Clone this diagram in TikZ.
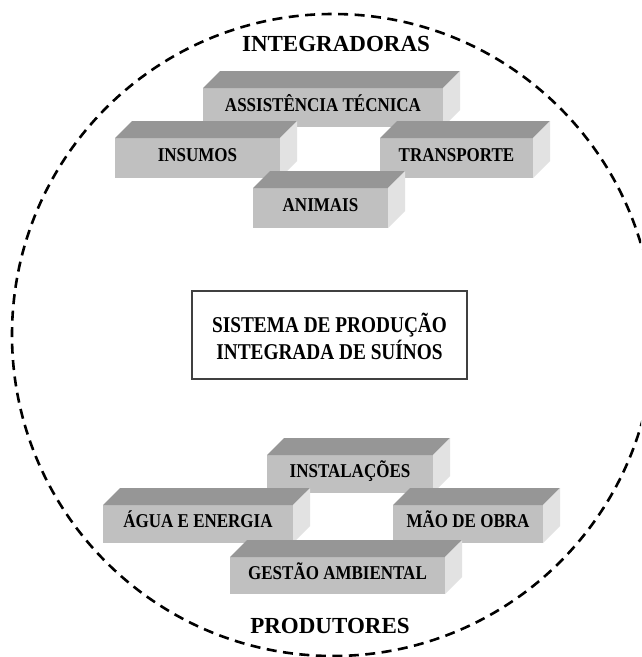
\documentclass[tikz,border=0pt]{standalone}
\usepackage{fontspec}
\setmainfont{Liberation Serif}
\usetikzlibrary{calc}
\definecolor{frontc}{HTML}{C0C0C0}
\definecolor{topc}{HTML}{969696}
\definecolor{sidec}{HTML}{E2E2E2}
\newcommand\dd{17}
\newcommand\tallbox[1]{\raisebox{-3.5pt}[0pt][0pt]{\scalebox{1}[1.15]{#1}}}
\newcommand\cubebox[6]{%
  \node[face, minimum width={#4-#2}, minimum height={#5-#3}] (#1) at ({(#2+#4)/2},{(#3+#5)/2}) {\tallbox{#6}};
  \fill[topc] (#1.north west) -- ([shift={(\dd,-\dd)}]#1.north west) -- ([shift={(\dd,-\dd)}]#1.north east) -- (#1.north east) -- cycle;
  \fill[sidec] (#1.north east) -- ([shift={(\dd,-\dd)}]#1.north east) -- ([shift={(\dd,-\dd)}]#1.south east) -- (#1.south east) -- cycle;
}
\tikzset{
  face/.style={fill=frontc, draw=none, inner sep=0pt, outer sep=0pt,
    font=\fontsize{17}{20}\selectfont\bfseries},
  title/.style={inner sep=0pt, font=\fontsize{23}{26}\selectfont\bfseries},
  centerbox/.style={draw=black!75, line width=1.3pt, fill=white, inner sep=0pt,
    minimum width=275, minimum height=88,
    font=\fontsize{19.3}{22.5}\selectfont\bfseries},
  ring/.style={line width=2.6pt, dash pattern=on 10pt off 6.5pt}
}
\begin{document}
\begin{tikzpicture}[x=1pt,y=-1pt]
\useasboundingbox (0,0) rectangle (641,657);
\clip (0,0) rectangle (641,657);
\fill[white] (0,0) rectangle (641,657);
\draw[ring] (333,335) circle[radius=321];
\node[title] (integ) at (336,44) {INTEGRADORAS};
\node[title] (prod) at (330,626) {PRODUTORES};
\cubebox{assist}{203}{88}{443}{127}{ASSISTÊNCIA TÉCNICA}
\cubebox{insumos}{115}{138}{280}{178}{INSUMOS}
\cubebox{transp}{380}{138}{533}{178}{TRANSPORTE}
\cubebox{animais}{253}{188}{388}{228}{ANIMAIS}
\node[centerbox] (sist) at (329.5,335) {\raisebox{-5pt}[\height][\depth]{\scalebox{1}[1.17]{\begin{tabular}{@{}c@{}}SISTEMA DE PRODUÇÃO\\INTEGRADA DE SUÍNOS\end{tabular}}}};
\cubebox{instal}{267}{455}{433}{493}{INSTALAÇÕES}
\cubebox{agua}{103}{505}{293}{543}{ÁGUA E ENERGIA}
\cubebox{mao}{393}{505}{543}{543}{MÃO DE OBRA}
\cubebox{gestao}{230}{557}{445}{594}{GESTÃO AMBIENTAL}
\end{tikzpicture}
\end{document}
